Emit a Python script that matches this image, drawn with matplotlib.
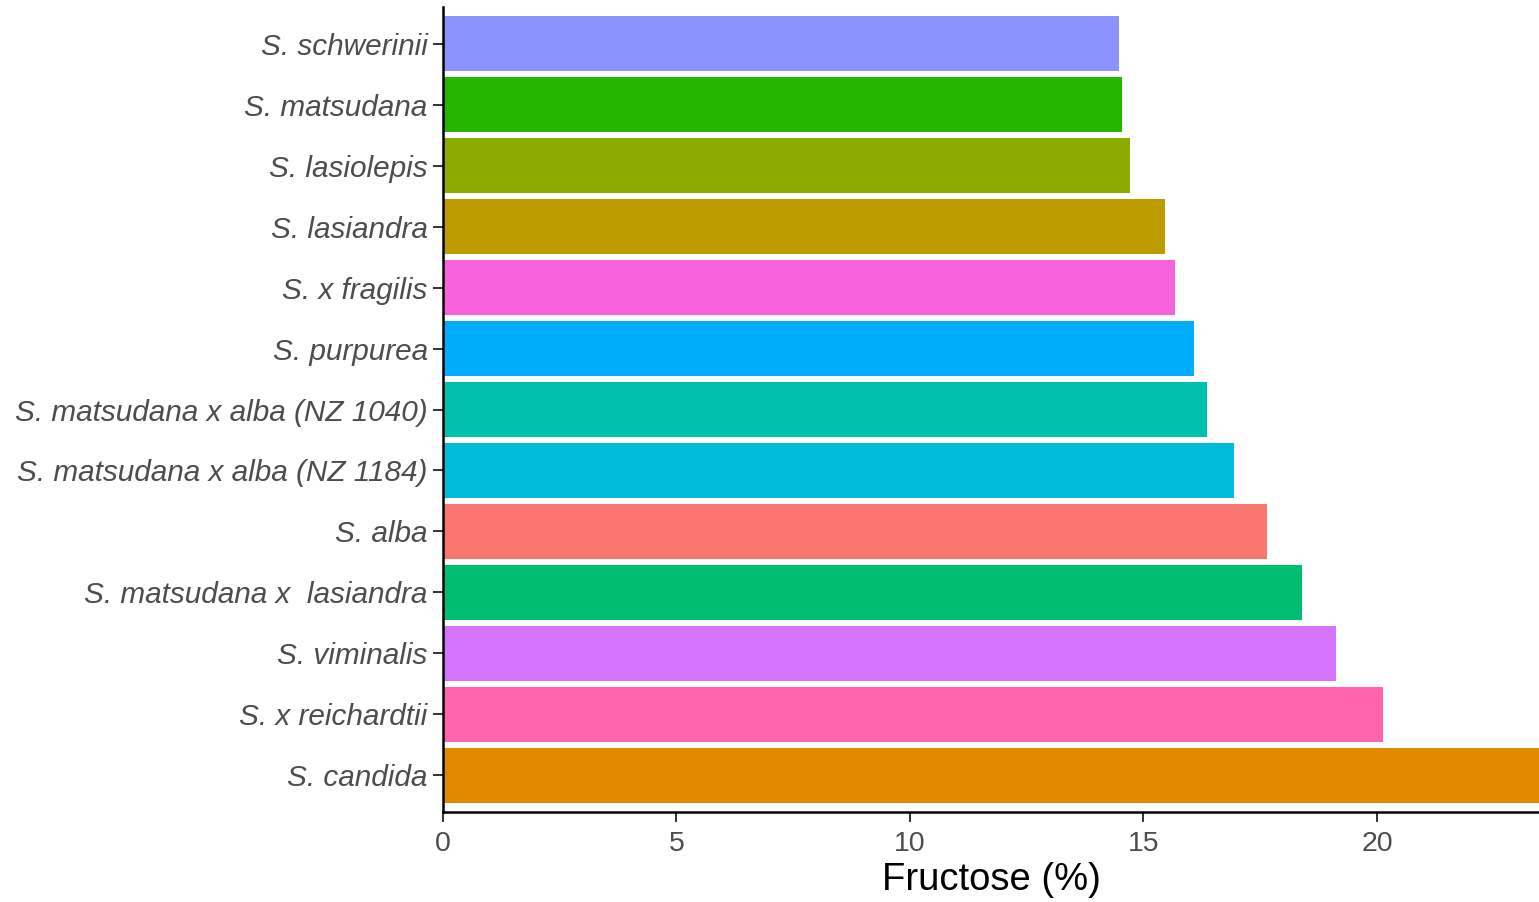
import matplotlib
matplotlib.use("Agg")
import matplotlib.pyplot as plt

plt.rcParams["font.family"] = ["Liberation Sans", "DejaVu Sans"]

# top to bottom order as shown
species = ["S. schwerinii", "S. matsudana", "S. lasiolepis", "S. lasiandra", "S. x fragilis",
           "S. purpurea", "S. matsudana x alba (NZ 1040)", "S. matsudana x alba (NZ 1184)",
           "S. alba", "S. matsudana x  lasiandra", "S. viminalis", "S. x reichardtii", "S. candida"]
fructose = [14.47, 14.54, 14.71, 15.46, 15.67, 16.08, 16.36, 16.94, 17.64, 18.39, 19.12, 20.13, 23.6]
colors = ["#8B93FF", "#24B700", "#8CAB00", "#BE9C00", "#F962DD", "#00ACFC", "#00C1AB",
          "#00BBDA", "#F8766D", "#00BE70", "#D575FE", "#FF65AC", "#E18A00"]

fig = plt.figure(figsize=(15.39, 9.02), dpi=100)
ax = fig.add_axes([443/1539, 1-812/902, 1-443/1539, (812-7)/902])

ypos = list(range(len(species)))[::-1]
ax.barh(ypos, fructose, height=0.9, color=colors)
ax.set_yticks(ypos)
ax.set_yticklabels(species, style="italic")
ax.set_ylim(-0.6, len(species) - 0.4)
ax.set_xlim(0, 23.47)
ax.set_xticks([0, 5, 10, 15, 20])
ax.set_xlabel("Fructose (%)", fontsize=27.5, color="black", labelpad=3)

for s in ("top", "right"):
    ax.spines[s].set_visible(False)
for s in ("left", "bottom"):
    ax.spines[s].set_linewidth(1.8)
    ax.spines[s].set_color("black")
ax.tick_params(axis="both", labelcolor="#4D4D4D", color="#333333", length=7, width=1.4)
ax.tick_params(axis="y", labelsize=21.4, pad=4)
ax.tick_params(axis="x", labelsize=20.5, pad=7)

fig.savefig("out.png", dpi=100, facecolor="white")
